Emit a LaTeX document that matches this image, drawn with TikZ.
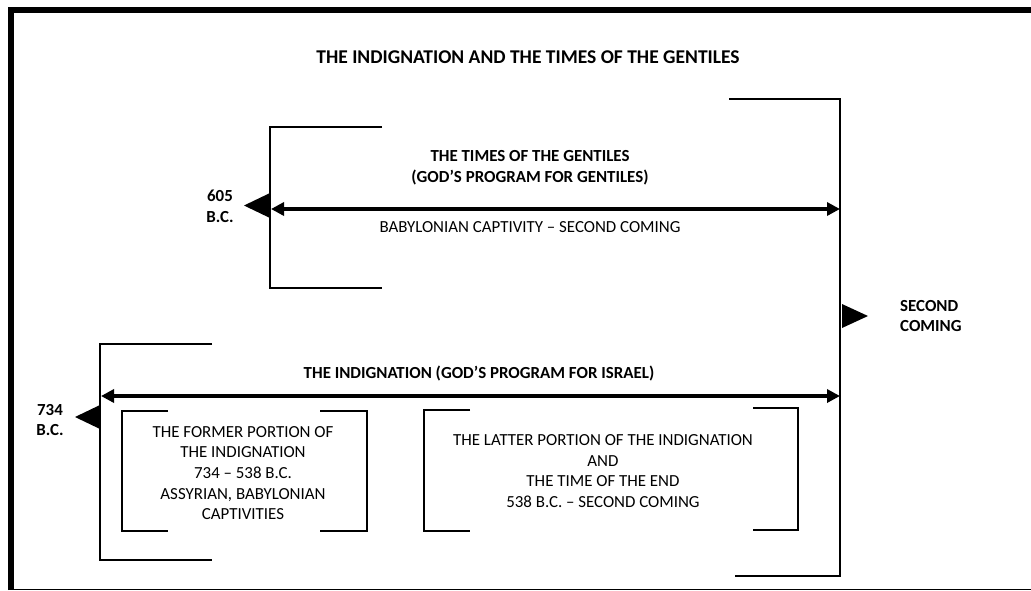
\documentclass[tikz,border=0pt]{standalone}
\usepackage{fontspec}
\setmainfont{Carlito}
\usetikzlibrary{arrows.meta}

\begin{document}
\begin{tikzpicture}[x=1pt,y=1pt,yscale=-1,xscale=1,
  brk/.style={line width=1.6pt},
  span/.style={line width=4pt,{Triangle[length=13pt,width=13pt]}-{Triangle[length=13pt,width=13pt]}},
  txt/.style={inner sep=0pt,align=center,font=\fontsize{16.9}{20.7}\selectfont},
  btxt/.style={inner sep=0pt,align=center,font=\fontsize{16.9}{20.7}\selectfont\bfseries}]
\useasboundingbox (0,0) rectangle (1031,590);
\draw [line width=6pt] (11,590) -- (11,10) -- (1031,10) ;
\draw [line width=1pt] (8,589) -- (1031,589) ;
\node [btxt,font=\fontsize{19.5}{23}\selectfont\bfseries] (title) at (528,57) {THE INDIGNATION AND THE TIMES OF THE GENTILES};
\draw [brk] (729,99) -- (840,99) -- (840,576) -- (735,576) ;
\draw [brk] (382,127) -- (270,127) -- (270,288) -- (382,288) ;
\draw [brk] (212,344) -- (100,344) -- (100,560) -- (212,560) ;
\coordinate (gleft) at (271,209);
\coordinate (gright) at (840,209);
\coordinate (ileft) at (101,396);
\coordinate (iright) at (840,396);
\draw [span] (gleft) -- (gright) ;
\draw [span] (ileft) -- (iright) ;
\fill (270,193) -- (244,205.5) -- (270,218) -- cycle ;
\fill (100,405) -- (75,417) -- (100,429) -- cycle ;
\fill (842,304) -- (868,316) -- (842,328) -- cycle ;
\node [btxt] (d605) at (220,206) {605\\B.C.};
\node [btxt] (d734) at (50,420) {734\\B.C.};
\node [btxt,align=left,anchor=west] (second) at (900,316) {SECOND\\COMING};
\node [btxt] (gentiles) at (530,168) {THE TIMES OF THE GENTILES\\(GOD’S PROGRAM FOR GENTILES)};
\node [txt] (babylon) at (530,227) {BABYLONIAN CAPTIVITY – SECOND COMING};
\node [btxt] (israel) at (479,373) {THE INDIGNATION (GOD’S PROGRAM FOR ISRAEL)};
\draw [brk] (168,411) -- (122,411) -- (122,531) -- (168,531) ;
\draw [brk] (320,411) -- (367,411) -- (367,531) -- (320,531) ;
\draw [brk] (470,410) -- (424,410) -- (424,531) -- (470,531) ;
\draw [brk] (753,408) -- (798,408) -- (798,530) -- (753,530) ;
\node [txt] (former) at (243,473) {THE FORMER PORTION OF\\THE INDIGNATION\\734 – 538 B.C.\\ASSYRIAN, BABYLONIAN\\CAPTIVITIES};
\node [txt] (latter) at (603,471) {THE LATTER PORTION OF THE INDIGNATION\\AND\\THE TIME OF THE END\\538 B.C. – SECOND COMING};
\end{tikzpicture}
\end{document}
